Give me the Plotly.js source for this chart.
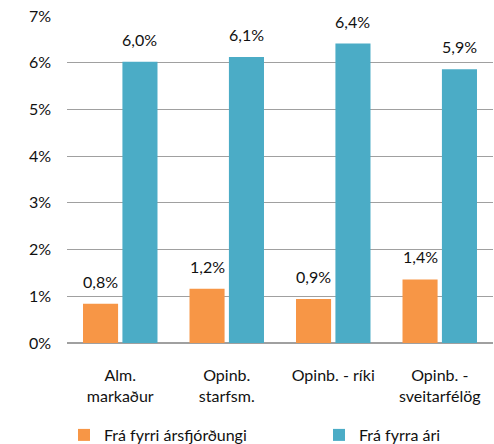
<!DOCTYPE html>
<html>
<head>
<meta charset="utf-8">
<script src="https://cdn.plot.ly/plotly-3.0.1.min.js"></script>
<style>html,body{margin:0;padding:0;background:#fff;}#chart{width:494px;height:444px;}</style>
</head>
<body>
<div id="chart"></div>
<script>
const categories = ["Alm.<br>markaður", "Opinb.<br>starfsm.", "Opinb. - ríki", "Opinb. -<br>sveitarfélög"];
const seriesNames = ["Frá fyrri ársfjórðungi", "Frá fyrra ári"];
const fraFyrriArsfjordungi = [0.84, 1.16, 0.94, 1.36];
const fraFyrraAri = [6.02, 6.12, 6.41, 5.86];
const yTickVals = [0, 1, 2, 3, 4, 5, 6, 7];
const yTickText = ["0%", "1%", "2%", "3%", "4%", "5%", "6%", "7%"];

const FONT = "Lato, 'Open Sans', sans-serif";
const TXT = "#111111";
const FS = 16;
const BARGAP = 0.26;

const traces = [
  {
    type: "bar", name: seriesNames[0], x: categories, y: fraFyrriArsfjordungi,
    marker: {color: "#F79646"}, legend: "legend"
  },
  {
    type: "bar", name: seriesNames[1], x: categories, y: fraFyrraAri,
    marker: {color: "#4BACC6"}, legend: "legend2"
  }
];

// value labels above bars (offset of each bar within its group)
const slot = (1 - BARGAP) / 2;
const fmt = v => v.toFixed(1).replace(".", ",") + "%";
const annotations = [];
[fraFyrriArsfjordungi, fraFyrraAri].forEach((vals, s) => {
  vals.forEach((v, i) => {
    annotations.push({
      xref: "x", yref: "y", x: i + (s === 0 ? -slot / 2 : slot / 2), y: v,
      text: fmt(v), showarrow: false, yanchor: "bottom", yshift: 11,
      font: {family: FONT, size: FS, color: TXT}
    });
  });
});

const legendBase = {
  orientation: "h", xref: "container", yref: "container",
  yanchor: "middle", y: 1 - 435/444,
  font: {family: FONT, size: FS, color: TXT},
  bgcolor: "rgba(0,0,0,0)", itemwidth: 30
};

const layout = {
  width: 494, height: 444,
  margin: {l: 67, r: 1, t: 16, b: 101},
  paper_bgcolor: "#fff", plot_bgcolor: "#fff",
  font: {family: FONT, size: FS, color: TXT},
  barmode: "group", bargap: BARGAP, bargroupgap: 0.11,
  showlegend: true,
  legend: Object.assign({}, legendBase, {x: 64/494, xanchor: "left"}),
  legend2: Object.assign({}, legendBase, {x: 319/494, xanchor: "left"}),
  annotations: annotations,
  xaxis: {
    showgrid: false, zeroline: false, showline: false, ticks: "",
    tickfont: {family: FONT, size: FS, color: TXT},
    ticklabelstandoff: 21
  },
  yaxis: {
    range: [0, 7], tickvals: yTickVals, ticktext: yTickText,
    showgrid: true, gridcolor: "#a0a0a0", gridwidth: 1.2,
    zeroline: true, zerolinecolor: "#a0a0a0", zerolinewidth: 1.2,
    showline: false, ticks: "",
    tickfont: {family: FONT, size: FS, color: TXT},
    ticklabelstandoff: 15
  }
};

Plotly.newPlot("chart", traces, layout, {displayModeBar: false, staticPlot: true});
</script>
</body>
</html>
